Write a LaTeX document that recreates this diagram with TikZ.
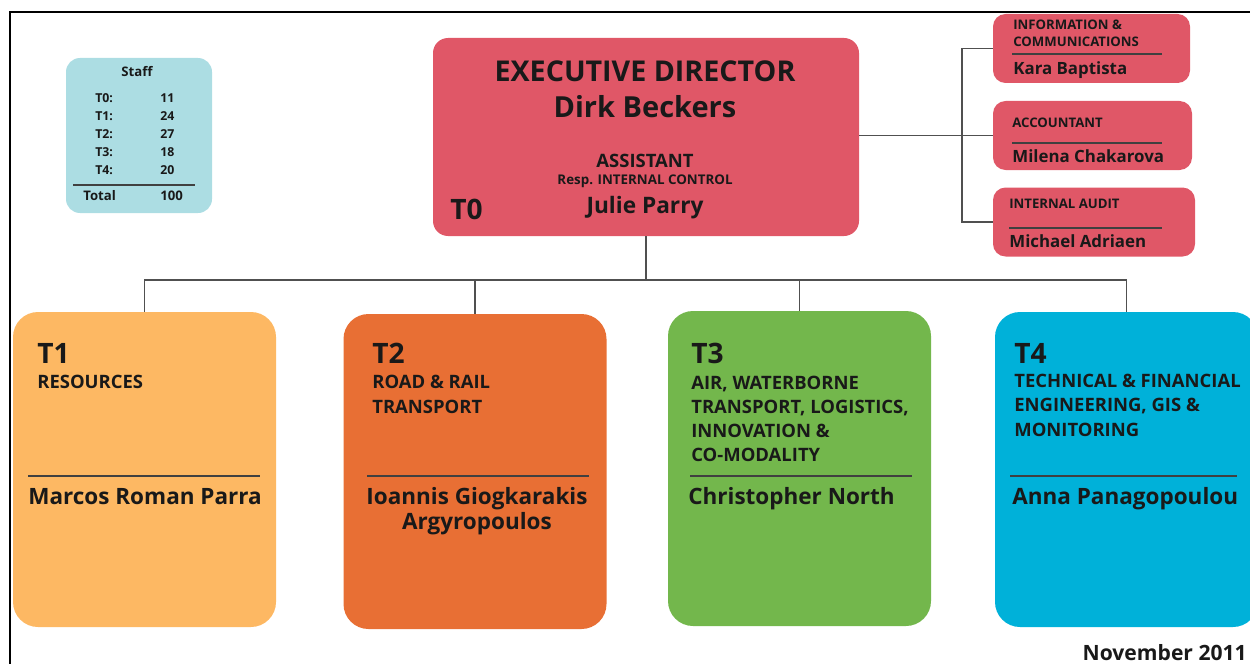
\documentclass[tikz,border=0pt]{standalone}
\usepackage{fontspec}
\setmainfont{Open Sans}
\usetikzlibrary{positioning,calc}
\definecolor{orgred}   {HTML}{E05767}
\definecolor{orgsky}   {HTML}{ACDDE3}
\definecolor{orgsand}  {HTML}{FDB863}
\definecolor{orgrust}  {HTML}{E86F34}
\definecolor{orggreen} {HTML}{73B74C}
\definecolor{orgcyan}  {HTML}{00B1D9}
\definecolor{orglink}  {HTML}{505050}

\begin{document}
\begin{tikzpicture}[
  every node/.style={font=\bfseries, inner sep=0pt, text=black!90},
  box/.style={rectangle, draw=none, anchor=center},
  unitbox/.style={box, rounded corners=0.5cm, minimum width=5.26cm, minimum height=6.3cm},
  sidebox/.style={box, rounded corners=0.25cm, fill=orgred, minimum height=1.38cm},
  link/.style={draw=orglink, line width=0.8pt},
  divider/.style={draw=black!75, line width=0.6pt},
  tcode/.style={anchor=base west, font=\bfseries\fontsize{16}{16}\selectfont},
  remit/.style={anchor=base west, align=left, font=\bfseries\fontsize{10.5}{13.7}\selectfont},
  chief/.style={anchor=base west, align=left, font=\bfseries\fontsize{12.8}{14.2}\selectfont},
  sidetitle/.style={anchor=base west, align=left, font=\bfseries\fontsize{7.5}{9.7}\selectfont},
  sidename/.style={anchor=base west, font=\bfseries\fontsize{9.6}{9.6}\selectfont},
  stafftext/.style={anchor=base west, align=left, font=\bfseries\fontsize{7}{10.2}\selectfont}
]
\useasboundingbox (0,0) rectangle (25,-13.28);

% frame
\draw[line width=1.1pt] (0.2,-13.28) -- (0.2,-0.24) -- (25,-0.24);

% Staff table
\node[box, fill=orgsky, rounded corners=0.28cm, minimum width=2.92cm, minimum height=3.1cm]
  (staff) at (2.78,-2.71) {};
\node[stafftext, anchor=base, font=\bfseries\fontsize{7.5}{7.5}\selectfont] (stafftitle) at (2.74,-1.54) {Staff};
% multi-line nodes sit on the baseline of their last line
\node[stafftext] (stafflabels) at (1.90,-3.48) {T0:\\T1:\\T2:\\T3:\\T4:};
\node[stafftext] (staffcounts) at (3.20,-3.48) {11\\24\\27\\18\\20};
\draw[divider] (1.46,-3.70) -- (3.90,-3.70);
\node[stafftext, font=\bfseries\fontsize{7.5}{7.5}\selectfont] (totallabel) at (1.66,-4.00) {Total};
\node[stafftext, font=\bfseries\fontsize{7.5}{7.5}\selectfont] (totalcount) at (3.20,-4.00) {100};

% Executive director
\node[box, fill=orgred, rounded corners=0.3cm, minimum width=8.52cm, minimum height=3.96cm]
  (t0) at (12.92,-2.74) {};
\node[anchor=base, font=\bfseries\fontsize{16.3}{16.3}\selectfont] (dirtitle) at (12.90,-1.64) {EXECUTIVE DIRECTOR};
\node[anchor=base, font=\bfseries\fontsize{16.5}{16.5}\selectfont] (dirname) at (12.90,-2.36) {Dirk Beckers};
\node[anchor=base, font=\bfseries\fontsize{10.5}{10.5}\selectfont] (asstitle) at (12.90,-3.34) {ASSISTANT};
\node[anchor=base, font=\bfseries\fontsize{7.6}{7.6}\selectfont] (assresp) at (12.90,-3.68) {Resp. INTERNAL CONTROL};
\node[anchor=base, font=\bfseries\fontsize{12.9}{12.9}\selectfont] (assname) at (12.90,-4.26) {Julie Parry};
\node[tcode] (t0code) at (9.00,-4.38) {T0};

% Side functions
\node[sidebox, minimum width=3.94cm] (info)  at (21.83,-0.97) {};
\node[sidebox, minimum width=3.98cm] (acct)  at (21.85,-2.71) {};
\node[sidebox, minimum width=4.04cm] (audit) at (21.88,-4.44) {};

\node[sidetitle] (infotitle) at (20.26,-0.94) {INFORMATION \&\\COMMUNICATIONS};
\draw[divider] (20.24,-1.08) -- (23.24,-1.08);
\node[sidename] (infoname) at (20.26,-1.50) {Kara Baptista};

\node[sidetitle] (accttitle) at (20.24,-2.54) {ACCOUNTANT};
\draw[divider] (20.24,-2.86) -- (23.24,-2.86);
\node[sidename] (acctname) at (20.24,-3.24) {Milena Chakarova};

\node[sidetitle] (audittitle) at (20.18,-4.16) {INTERNAL AUDIT};
\draw[divider] (20.18,-4.56) -- (23.24,-4.56);
\node[sidename] (auditname) at (20.18,-4.94) {Michael Adriaen};

% Units
\node[unitbox, fill=orgsand]  (t1) at (2.89,-9.39) {};
\node[unitbox, fill=orgrust]  (t2) at (9.50,-9.43) {};
\node[unitbox, fill=orggreen] (t3) at (15.99,-9.37) {};
\node[unitbox, fill=orgcyan]  (t4) at (22.53,-9.39) {};

\node[tcode] (t1code) at (0.74,-7.26) {T1};
\node[remit] (t1remit) at (0.74,-7.76) {RESOURCES};
\draw[divider] (0.56,-9.52) -- (5.20,-9.52);
\node[chief] (t1name) at (0.56,-10.08) {Marcos Roman Parra};

\node[tcode] (t2code) at (7.44,-7.26) {T2};
\node[remit] (t2remit) at (7.44,-8.26) {ROAD \& RAIL\\TRANSPORT};
\draw[divider] (7.34,-9.52) -- (11.78,-9.52);
\node[chief, anchor=base, align=center] (t2name) at (9.54,-10.58) {Ioannis Giogkarakis\\Argyropoulos};

\node[tcode] (t3code) at (13.82,-7.26) {T3};
\node[remit] (t3remit) at (13.82,-9.23) {AIR, WATERBORNE\\TRANSPORT, LOGISTICS,\\INNOVATION \&\\CO-MODALITY};
\draw[divider] (13.80,-9.52) -- (18.24,-9.52);
\node[chief] (t3name) at (13.76,-10.08) {Christopher North};

\node[tcode] (t4code) at (20.28,-7.26) {T4};
\node[remit] (t4remit) at (20.28,-8.72) {TECHNICAL \& FINANCIAL\\ENGINEERING, GIS \&\\MONITORING};
\draw[divider] (20.20,-9.52) -- (24.74,-9.52);
\node[chief] (t4name) at (20.24,-10.08) {Anna Panagopoulou};

% Connectors
\coordinate (bus) at (12.92,-5.60);
\coordinate (rbus) at (19.24,0);
\draw[link] (t0.south) -- (bus);
\draw[link] (t1.north) |- (bus) -| (t4.north);
\draw[link] (t2.north) -- (t2.north |- bus);
\draw[link] (t3.north) -- (t3.north |- bus);
\draw[link] (t0.east |- acct.west) -- (acct.west);
\draw[link] (info.west) -| (rbus |- audit.west) -- (audit.west);

% Date
\node[anchor=base east, font=\bfseries\fontsize{12}{12}\selectfont] (date) at (24.94,-13.20) {November 2011};
\end{tikzpicture}
\end{document}
